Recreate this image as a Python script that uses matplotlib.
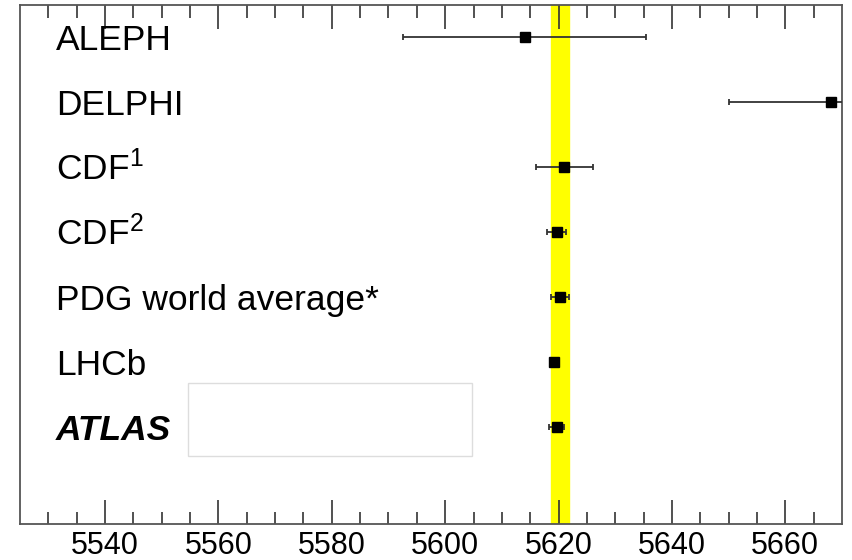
# Lambda_b mass comparison plot

import matplotlib.pyplot as plt
from matplotlib.patches import Rectangle

plt.rcParams['font.family'] = ['Liberation Sans', 'DejaVu Sans']
plt.rcParams['mathtext.fontset'] = 'custom'
plt.rcParams['mathtext.rm'] = 'Liberation Sans'
plt.rcParams['mathtext.it'] = 'Liberation Sans:italic'
plt.rcParams['mathtext.bf'] = 'Liberation Sans:bold'

experiments = ['ALEPH', 'DELPHI', 'CDF$^1$', 'CDF$^2$', 'PDG world average*', 'LHCb', 'ATLAS']
masses = [5614.0, 5668.0, 5621.0, 5619.7, 5620.2, 5619.2, 5619.7]
errors = [21.4, 17.9, 5.0, 1.7, 1.6, 0.6, 1.3]
rows = [7.5, 6.5, 5.5, 4.5, 3.5, 2.5, 1.5]

# PDG band
band_center = 5620.2
band_err = 1.6

fig = plt.figure(figsize=(8.52, 5.6), dpi=100)
ax = fig.add_axes([20/852, 36/560, 822/852, 519/560])

ax.axvspan(band_center - band_err, band_center + band_err, color='#ffff00', zorder=1)

ax.errorbar(masses, rows, xerr=errors, fmt='s', ms=7, mfc='black', mec='black',
            ecolor='#333333', elinewidth=1.3, capsize=2.5, capthick=1.3, zorder=3)

for i in range(len(experiments)):
    if experiments[i] == 'ATLAS':
        ax.text(0.044, rows[i] - 0.2, experiments[i], transform=ax.get_yaxis_transform(),
                fontsize=25.5, fontweight='bold', fontstyle='italic', va='baseline')
    else:
        ax.text(0.044, rows[i] - 0.2, experiments[i], transform=ax.get_yaxis_transform(),
                fontsize=25.5, va='baseline')

ax.set_xlim(5525, 5670)
ax.set_ylim(0, 8)
ax.set_xticks([5540, 5560, 5580, 5600, 5620, 5640, 5660])
ax.set_xticks([x for x in range(5530, 5670, 5) if (x - 5540) % 20 != 0], minor=True)
ax.set_yticks([])
ax.tick_params(axis='x', which='both', direction='in', top=True, bottom=True,
               labelsize=22, color='#333333', labelcolor='black', width=1.2, pad=5)
ax.tick_params(axis='x', which='major', length=17)
ax.tick_params(axis='x', which='minor', length=9)
for s in ax.spines.values():
    s.set_color('#555555')
    s.set_linewidth(1.3)

# empty box
fig.patches.append(Rectangle((188/852, 104/560), 284/852, 73/560, transform=fig.transFigure,
                             facecolor='white', edgecolor='#dddddd', linewidth=1, zorder=5))

plt.savefig('out.png', dpi=100)
